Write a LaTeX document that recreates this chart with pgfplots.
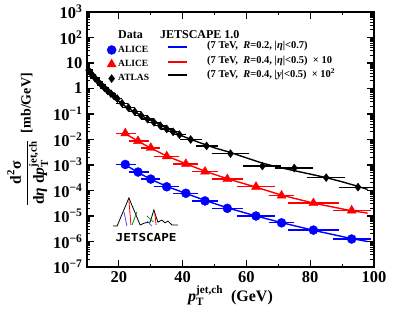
\documentclass[border=0pt]{standalone}
\usepackage{amsmath}
\usepackage{fontspec}
\setmainfont{Liberation Serif}
\newfontfamily\logofont{DejaVu Sans Mono}
\usepackage{pgfplots}
\pgfplotsset{compat=1.18}

\pgfplotstableread{
x y em ep
22 1.05e-3 2 2.5
26 5.3e-4 2 2.5
30 2.8e-4 2 2
35 1.4e-4 3 3
41 7.8e-5 3 3
47 3.9e-5 3 3
54 2.0e-5 4 4
63 1.0e-5 5 5
71 5.4e-6 3 3
81 2.8e-6 7 7
93 1.25e-6 5 5
}\aliceA

\pgfplotstableread{
x y em ep
22 1.75e-2 2 2.5
26 8.7e-3 2 2.5
30 4.7e-3 2 2
35 2.2e-3 3 3
41 1.1e-3 3 3
47 5.5e-4 3 3
54 2.8e-4 4 4
63 1.4e-4 5 5
71 6.3e-5 3 3
81 3.2e-5 7 7
93 1.65e-5 5 5
}\aliceB

\pgfplotstableread{
x y e
10.5 5.25 0.5
11.5 3.63 0.5
12.5 2.57 0.5
13.5 1.86 0.5
14.5 1.38 0.5
15.5 1.05 0.5
16.5 0.81 0.5
17.5 0.63 0.5
18.5 0.50 0.5
19.5 0.40 0.5
21 0.263 1
23 0.178 1
25 0.123 1
27 0.087 1
29 0.063 1
31 0.047 1
33 0.035 1
35 0.026 1
37 0.020 1
39 0.0155 1
42.5 0.0100 2.5
47.5 0.0056 2.5
55 0.0028 5
65 9.1e-4 5
75 7.6e-4 5
85 3.2e-4 5
95 1.35e-4 5
}\atlas

\begin{document}
\begin{tikzpicture}
\begin{axis}[
  at={(0,0)}, anchor=south west,
  width=287pt, height=255pt, scale only axis,
  xmin=10, xmax=100, ymode=log, ymin=1e-7, ymax=1e3,
  xtick={20,40,60,80,100}, xticklabels={20,40,60,80,100},
  minor xtick={10,30,50,70,90},
  ytick={1e-7,1e-6,1e-5,1e-4,1e-3,1e-2,1e-1,1,10,1e2,1e3},
  yticklabels={10\textsuperscript{−7},10\textsuperscript{−6},10\textsuperscript{−5},10\textsuperscript{−4},10\textsuperscript{−3},10\textsuperscript{−2},10\textsuperscript{−1},1,10,10\textsuperscript{2},10\textsuperscript{3}},
  minor ytick={2e-7,3e-7,4e-7,5e-7,6e-7,7e-7,8e-7,9e-7,
               2e-6,3e-6,4e-6,5e-6,6e-6,7e-6,8e-6,9e-6,
               2e-5,3e-5,4e-5,5e-5,6e-5,7e-5,8e-5,9e-5,
               2e-4,3e-4,4e-4,5e-4,6e-4,7e-4,8e-4,9e-4,
               2e-3,3e-3,4e-3,5e-3,6e-3,7e-3,8e-3,9e-3,
               2e-2,3e-2,4e-2,5e-2,6e-2,7e-2,8e-2,9e-2,
               0.2,0.3,0.4,0.5,0.6,0.7,0.8,0.9,
               2,3,4,5,6,7,8,9,20,30,40,50,60,70,80,90,
               200,300,400,500,600,700,800,900},
  tick align=inside,
  major tick length=7pt, minor tick length=3.5pt,
  axis line style={line width=1.6pt},
  every tick/.style={line width=1.1pt, black},
  ticklabel style={font=\fontsize{16.5}{18}\selectfont\bfseries},
  yticklabel style={xshift=-1pt},
  xticklabel style={yshift=-1pt},
  xlabel={\textit{p}$_{\text{T}}^{\text{jet,ch}}$\ \ (GeV)},
  xlabel style={font=\fontsize{16}{18}\selectfont\bfseries, yshift=4pt},
  ylabel={{\fontsize{15.5}{17}\selectfont$\dfrac{\text{d}^{\text{2}}\text{σ}}{\text{d\textit{η} d\textit{p}}^{\text{jet,ch}}_{\text{T}}}$}\ \ [mb/GeV]},
  ylabel style={font=\fontsize{14}{16}\selectfont\bfseries, yshift=-2pt},
  legend style={at={(rel axis cs:0.045,0.945)}, anchor=north west, draw=none, fill=none,
    font=\fontsize{9.5}{11}\selectfont\bfseries, row sep=2.5pt},
  legend cell align=left,
  error bars/error bar style={line width=1.3pt},
  error bars/error mark options={line width=1.3pt, mark size=3pt},
]
% legend (data)
\addlegendimage{empty legend}\addlegendentry{\fontsize{12}{13}\selectfont Data}
\addlegendimage{only marks, mark=*, blue, mark size=4.5pt}\addlegendentry{ALICE}
\addlegendimage{only marks, mark=triangle*, red, mark size=5.2pt}\addlegendentry{ALICE}
\addlegendimage{only marks, mark=diamond*, black, mark size=4pt}\addlegendentry{ATLAS}

% JETSCAPE curves
\addplot[forget plot, blue, line width=1.4pt] coordinates {
(22,1.02e-3)(26,5.1e-4)(30,2.75e-4)(35,1.45e-4)(41,7.7e-5)(47,4.1e-5)(54,2.1e-5)
(63,1.0e-5)(71,5.5e-6)(81,2.75e-6)(93,1.3e-6)(98,1.0e-6)};
\addplot[forget plot, red, line width=1.4pt] coordinates {
(22,1.7e-2)(26,8.6e-3)(30,4.6e-3)(35,2.25e-3)(41,1.12e-3)(47,5.7e-4)(54,2.9e-4)
(63,1.35e-4)(71,6.6e-5)(81,3.2e-5)(93,1.6e-5)(98,1.3e-5)};
\addplot[forget plot, black, line width=1.4pt] coordinates {
(10,6.5)(11,4.5)(12,3.2)(13,2.3)(14,1.7)(15,1.3)(17,0.75)(20,0.31)(22.5,0.18)(25,0.12)
(27.5,0.08)(30,0.057)(35,0.028)(40,0.0135)(45,0.0078)(50,0.0047)(55,0.0031)(60,0.0019)
(65,0.00118)(70,8.2e-4)(75,6.0e-4)(80,4.4e-4)(85,3.2e-4)(90,2.2e-4)(95,1.45e-4)(98,1.1e-4)};

% data
\addplot[forget plot, only marks, mark=*, blue, mark size=4.5pt,
  error bars/.cd, x dir=both, x explicit]
  table[x=x, y=y, x error minus=em, x error plus=ep] {\aliceA};
\addplot[forget plot, only marks, mark=triangle*, red, mark size=5.2pt,
  error bars/.cd, x dir=both, x explicit]
  table[x=x, y=y, x error minus=em, x error plus=ep] {\aliceB};
\addplot[forget plot, only marks, mark=diamond*, black, mark size=4pt,
  error bars/.cd, x dir=both, x explicit]
  table[x=x, y=y, x error=e] {\atlas};

% model column of the key: header, line samples and texts
\node[anchor=west, inner sep=0pt, font=\fontsize{12}{13}\selectfont\bfseries]
  at (rel axis cs:0.254,0.912) {JETSCAPE 1.0};
\draw[blue, line width=1.4pt] (rel axis cs:0.282,0.863) -- (rel axis cs:0.348,0.863);
\draw[red, line width=1.4pt] (rel axis cs:0.282,0.804) -- (rel axis cs:0.348,0.804);
\draw[black, line width=1.4pt] (rel axis cs:0.282,0.753) -- (rel axis cs:0.348,0.753);
\begin{scope}[every node/.style={anchor=west, inner sep=0pt, font=\fontsize{10.5}{12}\selectfont\bfseries}]
\node at (rel axis cs:0.418,0.866) {(7 TeV,\ \ \textit{R}=0.2, |\textit{η}|<0.7)};
\node at (rel axis cs:0.418,0.809) {(7 TeV,\ \ \textit{R}=0.4, |\textit{η}|<0.5) \ × 10};
\node at (rel axis cs:0.418,0.756) {(7 TeV,\ \ \textit{R}=0.4, |\textit{y}|<0.5) \ × 10\textsuperscript{2}};
\end{scope}

% JETSCAPE logo
\draw[black, line width=0.8pt] (rel axis cs:0.09,0.161) -- (rel axis cs:0.105,0.161) -- (rel axis cs:0.146,0.271)
  -- (rel axis cs:0.185,0.165) -- (rel axis cs:0.202,0.173) -- (rel axis cs:0.220,0.176)
  -- (rel axis cs:0.233,0.224) -- (rel axis cs:0.247,0.176) -- (rel axis cs:0.261,0.184)
  -- (rel axis cs:0.272,0.173) -- (rel axis cs:0.282,0.180) -- (rel axis cs:0.296,0.165)
  -- (rel axis cs:0.317,0.165);
\draw[red, line width=0.8pt] (rel axis cs:0.146,0.263) -- (rel axis cs:0.153,0.165);
\draw[green!60!black, line width=0.8pt] (rel axis cs:0.157,0.165) -- (rel axis cs:0.174,0.216);
\draw[blue!70, line width=0.8pt] (rel axis cs:0.129,0.216) -- (rel axis cs:0.139,0.161);
\draw[red, line width=0.8pt] (rel axis cs:0.236,0.212) -- (rel axis cs:0.241,0.165);
\draw[green!60!black, line width=0.8pt] (rel axis cs:0.209,0.200) -- (rel axis cs:0.232,0.176);
\draw[blue!70, line width=0.8pt] (rel axis cs:0.209,0.180) -- (rel axis cs:0.226,0.161);
\node[font=\logofont\bfseries\fontsize{11}{12}\selectfont, xscale=1.15, inner sep=0pt]
  at (rel axis cs:0.206,0.116) {JETSCAPE};
\end{axis}
\path[use as bounding box] (-87pt,-46pt) rectangle (308pt,267pt);
\end{tikzpicture}
\end{document}
